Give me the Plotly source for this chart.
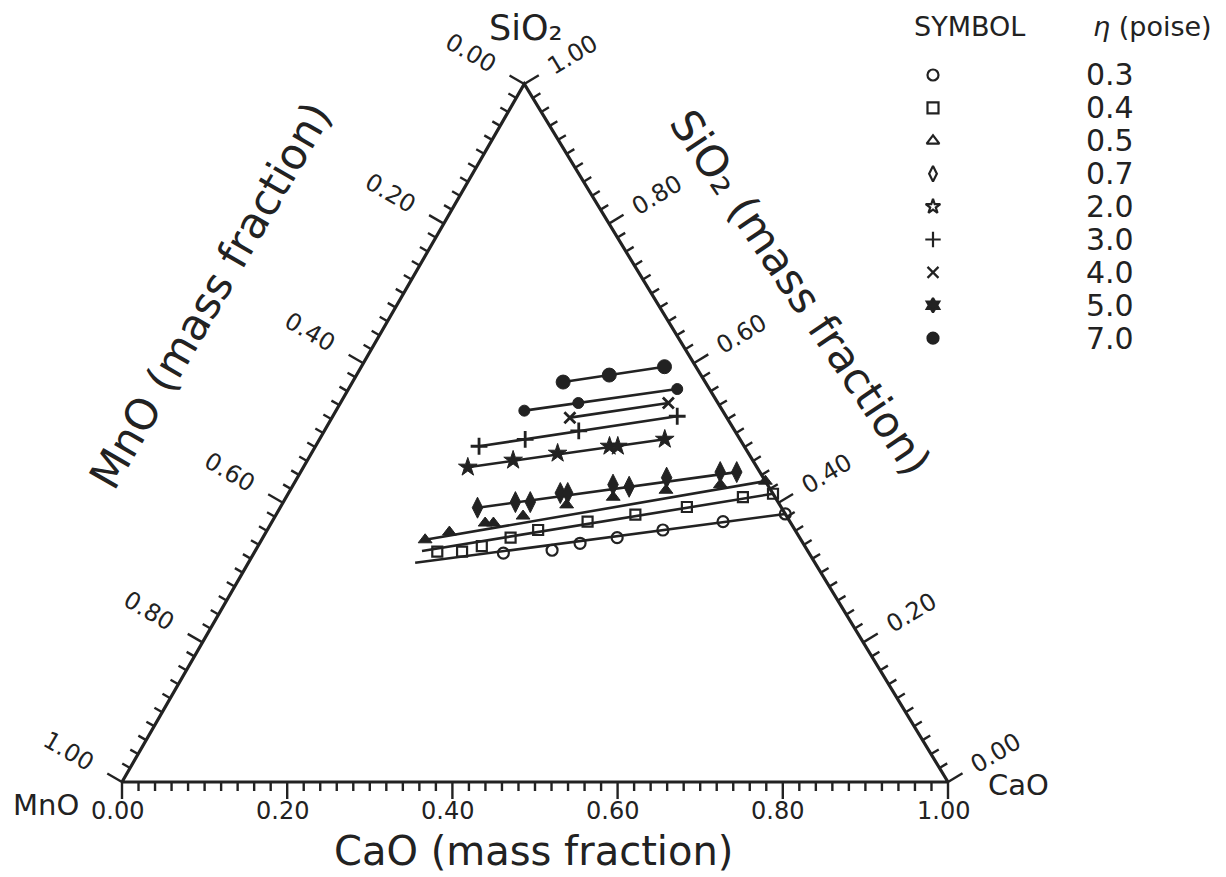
import numpy as np
import plotly.graph_objects as go

# ---------------------------------------------------------------------------
# Iso-viscosity data for CaO-MnO-SiO2 melts, mass fractions.
# Each series: measured compositions (CaO, SiO2); MnO = 1 - CaO - SiO2.
# ---------------------------------------------------------------------------
eta_labels = ["0.3", "0.4", "0.5", "0.7", "2.0", "3.0", "4.0", "5.0", "7.0"]

cao_eta03 = [0.302, 0.359, 0.388, 0.429, 0.479, 0.546, 0.616]
sio2_eta03 = [0.328, 0.332, 0.342, 0.350, 0.361, 0.373, 0.384]
line_cao_eta03 = [0.202, 0.616]
line_sio2_eta03 = [0.314, 0.384]

cao_eta04 = [0.221, 0.251, 0.271, 0.300, 0.328, 0.382, 0.435, 0.492, 0.553, 0.587]
sio2_eta04 = [0.330, 0.330, 0.338, 0.350, 0.361, 0.373, 0.383, 0.394, 0.408, 0.413]
line_cao_eta04 = [0.202, 0.587]
line_sio2_eta04 = [0.331, 0.413]

cao_eta05 = [0.198, 0.222, 0.259, 0.269, 0.300, 0.345, 0.396, 0.455, 0.517, 0.569]
sio2_eta05 = [0.347, 0.358, 0.371, 0.371, 0.381, 0.397, 0.408, 0.418, 0.426, 0.431]
line_cao_eta05 = [0.198, 0.569]
line_sio2_eta05 = [0.347, 0.431]

cao_eta07 = [0.239, 0.281, 0.299, 0.329, 0.338, 0.387, 0.408, 0.447, 0.508, 0.528]
sio2_eta07 = [0.393, 0.401, 0.401, 0.414, 0.414, 0.426, 0.423, 0.436, 0.444, 0.444]
line_cao_eta07 = [0.239, 0.528]
line_sio2_eta07 = [0.393, 0.444]

cao_eta20 = [0.199, 0.249, 0.298, 0.356, 0.366, 0.418]
sio2_eta20 = [0.451, 0.461, 0.471, 0.481, 0.481, 0.491]

cao_eta30 = [0.198, 0.249, 0.308, 0.417]
sio2_eta30 = [0.481, 0.491, 0.503, 0.524]

cao_eta40 = [0.288, 0.397]
sio2_eta40 = [0.522, 0.543]

cao_eta50 = [0.228, 0.288, 0.398]
sio2_eta50 = [0.532, 0.543, 0.563]

cao_eta70 = [0.255, 0.306, 0.367]
sio2_eta70 = [0.573, 0.583, 0.595]

tick_values = [round(0.02 * i, 2) for i in range(51)]
major_values = [0.0, 0.2, 0.4, 0.6, 0.8, 1.0]

# ---------------------------------------------------------------------------
# Page geometry and the ternary frame drawn on cartesian axes
# ---------------------------------------------------------------------------
W, H = 1226, 877
X0_PX, Y0_PX = 122, 782       # MnO corner on the page
SX, SY = 826, 698             # base length / apex height in pixels
APEX_X = 0.487                # apex position along the base

INK = "#222222"
FONT = "DejaVu Sans"


def tern_xy(cao, sio2):
    cao = np.asarray(cao, float)
    sio2 = np.asarray(sio2, float)
    return cao + APEX_X * sio2, sio2


def px_to_data(px, py):
    return (px - X0_PX) / SX, (Y0_PX - py) / SY


def unit(vx, vy):
    n = np.hypot(vx, vy)
    return vx / n, vy / n


fig = go.Figure()

# triangle outline: MnO -> CaO -> SiO2 -> MnO
fx, fy = tern_xy([0, 1, 0, 0], [0, 0, 1, 0])
fig.add_trace(go.Scatter(x=fx, y=fy, mode="lines",
                         line=dict(color=INK, width=3.2),
                         hoverinfo="skip", showlegend=False))

# edge definitions: composition along the edge and outward pixel normal
left_dir = (APEX_X * SX, -SY)
right_dir = ((APEX_X - 1) * SX, -SY)
edges = {
    "CaO": dict(comp=lambda v: (v, 0.0), normal=(0.0, 1.0)),
    "MnO": dict(comp=lambda v: (0.0, 1.0 - v),
                normal=unit(left_dir[1], -left_dir[0])),
    "SiO2": dict(comp=lambda v: (1.0 - v, v),
                 normal=unit(-right_dir[1], right_dir[0])),
}

tx, ty = [], []
for name, e in edges.items():
    nx, ny = e["normal"]
    for v in tick_values:
        c, s = e["comp"](v)
        bx, by = tern_xy(c, s)
        length = 17 if any(abs(v - m) < 1e-9 for m in major_values) else 9
        tx += [float(bx), float(bx) + nx * length / SX, None]
        ty += [float(by), float(by) - ny * length / SY, None]
fig.add_trace(go.Scatter(x=tx, y=ty, mode="lines",
                         line=dict(color=INK, width=2.4),
                         hoverinfo="skip", showlegend=False))

annotations = []


def add_text(text, x, y, size, angle=0, xshift=0, yshift=0, ref="data"):
    annotations.append(dict(
        text=text, x=x, y=y, xref="x" if ref == "data" else "paper",
        yref="y" if ref == "data" else "paper", showarrow=False,
        textangle=angle, xshift=xshift, yshift=yshift,
        font=dict(family=FONT, size=size, color=INK),
        xanchor="center", yanchor="middle"))


label_setup = {
    "CaO": dict(dist=29, angle=0, extra=(-5, 0)),
    "MnO": dict(dist=62, angle=30, extra=(0, 0)),
    "SiO2": dict(dist=56, angle=-31, extra=(0, 0)),
}
for name, e in edges.items():
    nx, ny = e["normal"]
    cfg = label_setup[name]
    for v in major_values:
        c, s = e["comp"](v)
        bx, by = tern_xy(c, s)
        add_text(f"{v:.2f}", float(bx), float(by), 24, angle=cfg["angle"],
                 xshift=nx * cfg["dist"] + cfg["extra"][0],
                 yshift=-ny * cfg["dist"] + cfg["extra"][1])

# axis titles and corner names
add_text("CaO (mass fraction)", 533 / W, 1 - 851 / H, 40, ref="paper")
add_text("MnO (mass fraction)", 210 / W, 1 - 296 / H, 43, angle=-60,
         ref="paper")
add_text("SiO₂ (mass fraction)", 800 / W, 1 - 292 / H, 43,
         angle=56, ref="paper")
add_text("MnO", 46 / W, 1 - 805 / H, 29, ref="paper")
add_text("CaO", 1018 / W, 1 - 785 / H, 29, ref="paper")
add_text("SiO₂", 526 / W, 1 - 28 / H, 35, ref="paper")

# ---------------------------------------------------------------------------
# iso-viscosity series
# ---------------------------------------------------------------------------
series = [
    dict(cao=cao_eta03, sio2=sio2_eta03, lc=line_cao_eta03, ls=line_sio2_eta03,
         symbol="circle-open", size=11, lw=2.2),
    dict(cao=cao_eta04, sio2=sio2_eta04, lc=line_cao_eta04, ls=line_sio2_eta04,
         symbol="square-open", size=10, lw=2.2),
    dict(cao=cao_eta05, sio2=sio2_eta05, lc=line_cao_eta05, ls=line_sio2_eta05,
         symbol="triangle-up", size=12, lw=1),
    dict(cao=cao_eta07, sio2=sio2_eta07, lc=line_cao_eta07, ls=line_sio2_eta07,
         symbol="diamond-tall", size=15, lw=1),
    dict(cao=cao_eta20, sio2=sio2_eta20, symbol="star", size=14, lw=1),
    dict(cao=cao_eta30, sio2=sio2_eta30, symbol="cross-thin", size=12, lw=2.8),
    dict(cao=cao_eta40, sio2=sio2_eta40, symbol="x-thin", size=11, lw=2.8),
    dict(cao=cao_eta50, sio2=sio2_eta50, symbol="circle", size=11, lw=1),
    dict(cao=cao_eta70, sio2=sio2_eta70, symbol="circle", size=14, lw=1),
]

for sr in series:
    lc = sr.get("lc", [sr["cao"][0], sr["cao"][-1]])
    ls = sr.get("ls", [sr["sio2"][0], sr["sio2"][-1]])
    lx, ly = tern_xy(lc, ls)
    fig.add_trace(go.Scatter(x=lx, y=ly, mode="lines",
                             line=dict(color=INK, width=2.6),
                             hoverinfo="skip", showlegend=False))
    mx, my = tern_xy(sr["cao"], sr["sio2"])
    fig.add_trace(go.Scatter(
        x=mx, y=my, mode="markers", showlegend=False,
        marker=dict(symbol=sr["symbol"], size=sr["size"], color=INK,
                    line=dict(color=INK, width=sr["lw"])),
    ))

# ---------------------------------------------------------------------------
# symbol key
# ---------------------------------------------------------------------------
key_symbols = ["circle-open", "square-open", "triangle-up-open",
               "diamond-tall-open", "star-open", "cross-thin", "x-thin",
               "hexagram", "circle"]
row_py = [75 + 32.9 * i for i in range(len(eta_labels))]
kx, ky = zip(*[px_to_data(933, py) for py in row_py])
fig.add_trace(go.Scatter(
    x=kx, y=ky, mode="markers", showlegend=False, hoverinfo="skip",
    marker=dict(symbol=key_symbols, size=11, color=INK,
                line=dict(color=INK, width=2.2))))
for lab, py in zip(eta_labels, row_py):
    add_text(lab, 1110 / W, 1 - py / H, 30, ref="paper")
add_text("SYMBOL", 969 / W, 1 - 26 / H, 27, ref="paper")
add_text("<i>η</i> (poise)", 1152 / W, 1 - 26 / H, 27, ref="paper")

fig.update_layout(
    width=W, height=H, autosize=False,
    margin=dict(l=0, r=0, t=0, b=0),
    paper_bgcolor="white", plot_bgcolor="white",
    xaxis=dict(range=[-X0_PX / SX, (W - X0_PX) / SX], visible=False,
               fixedrange=True),
    yaxis=dict(range=[-(H - Y0_PX) / SY, Y0_PX / SY], visible=False,
               fixedrange=True),
    annotations=annotations,
    showlegend=False,
)

fig.write_html("out.html")
